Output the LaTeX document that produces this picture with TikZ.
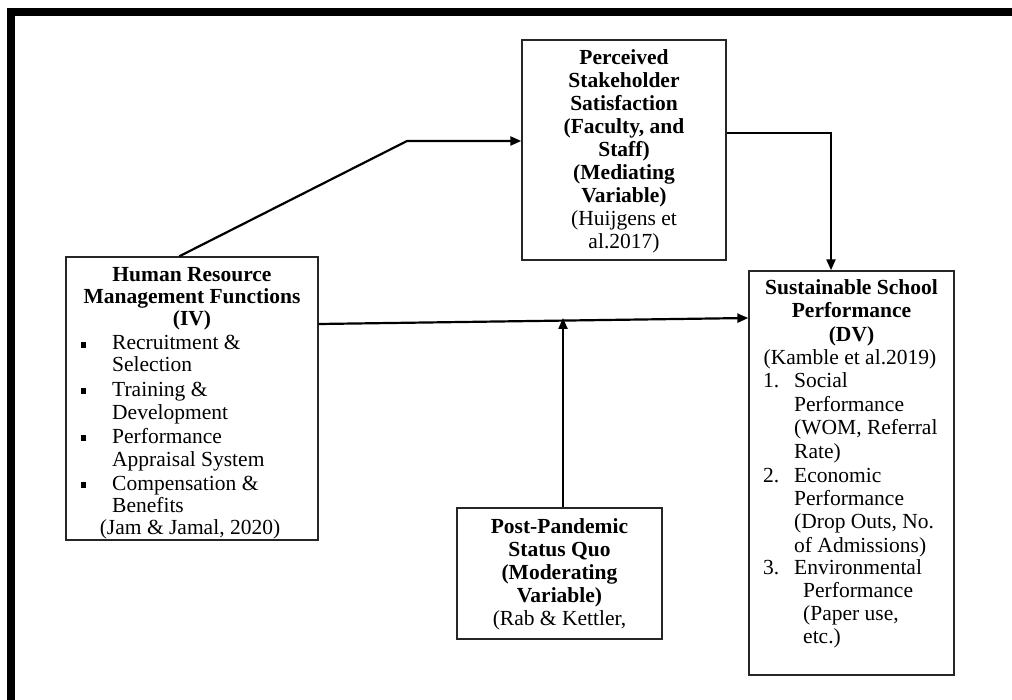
\documentclass[tikz,border=0pt]{standalone}
\usepackage{fontspec}
\setmainfont{Liberation Serif}
\usetikzlibrary{arrows.meta}
\begin{document}
\begin{tikzpicture}[x=1pt,y=-1pt,
  font=\fontsize{21.5}{23}\selectfont,
  box/.style={draw=black!85, line width=1.4pt, inner sep=0pt},
  txt/.style={inner sep=0pt, anchor=base},
  txtl/.style={inner sep=0pt, anchor=base west},
  bt/.style={inner sep=0pt, anchor=base, font=\fontsize{21.5}{23}\selectfont\bfseries},
  sq/.style={fill=black, inner sep=0pt, minimum size=5.5pt},
  conn/.style={line width=2.2pt, line join=miter},
  arr/.style={conn, -{Triangle[length=11pt,width=9pt]}}]
\useasboundingbox (0,0) rectangle (1012,700);
% outer frame
\draw[line width=8pt, line join=miter, line cap=butt] (11,700) -- (11,12) -- (1012,12);

% boxes
\node[box, minimum width=252pt, minimum height=283pt] (hrm) at (192,398.5) {};
\node[box, minimum width=204pt, minimum height=220pt] (med) at (624,150) {};
\node[box, minimum width=205pt, minimum height=404pt] (dv) at (851.5,473) {};
\node[box, minimum width=205pt, minimum height=131pt] (mod) at (559.5,573.5) {};

% HRM text
\node[bt] (h1) at (192,282) {Human Resource};
\node[bt] (h2) at (192,304) {Management Functions};
\node[bt] (h3) at (192,326) {(IV)};
\node[txtl] (h4) at (112,350) {Recruitment \&};
\node[txtl] (h5) at (112,372) {Selection};
\node[txtl] (h6) at (112,396) {Training \&};
\node[txtl] (h7) at (112,419) {Development};
\node[txtl] (h8) at (112,443) {Performance};
\node[txtl] (h9) at (112,466) {Appraisal System};
\node[txtl] (h10) at (112,490) {Compensation \&};
\node[txtl] (h11) at (112,512) {Benefits};
\node[txt] (h12) at (190,534) {(Jam \& Jamal, 2020)};
\node[sq] (b1) at (83.5,345) {};
\node[sq] (b2) at (83.5,391) {};
\node[sq] (b3) at (83.5,438) {};
\node[sq] (b4) at (83.5,485) {};

% Mediating text
\node[bt] (m1) at (624,65) {Perceived};
\node[bt] (m2) at (624,88) {Stakeholder};
\node[bt] (m3) at (624,111) {Satisfaction};
\node[bt] (m4) at (624,134) {(Faculty, and};
\node[bt] (m5) at (624,157) {Staff)};
\node[bt] (m6) at (624,180) {(Mediating};
\node[bt] (m7) at (624,203) {Variable)};
\node[txt] (m8) at (624,226) {(Huijgens et};
\node[txt] (m9) at (624,249) {al.2017)};

% DV text
\node[bt] (d1) at (851.5,295) {Sustainable School};
\node[bt] (d2) at (851.5,318) {Performance};
\node[bt] (d3) at (851.5,342) {(DV)};
\node[txt] (d4) at (850,365) {(Kamble et al.2019)};
\node[txtl] (n1) at (763,388) {1.};
\node[txtl] (d5) at (794,388) {Social};
\node[txtl] (d6) at (794,412) {Performance};
\node[txtl] (d7) at (794,435) {(WOM, Referral};
\node[txtl] (d8) at (794,458) {Rate)};
\node[txtl] (n2) at (763,482) {2.};
\node[txtl] (d9) at (794,482) {Economic};
\node[txtl] (d10) at (794,505) {Performance};
\node[txtl] (d11) at (794,528) {(Drop Outs, No.};
\node[txtl] (d12) at (794,552) {of Admissions)};
\node[txtl] (n3) at (763,574) {3.};
\node[txtl] (d13) at (794,574) {Environmental};
\node[txtl] (d14) at (803,597) {Performance};
\node[txtl] (d15) at (803,620) {(Paper use,};
\node[txtl] (d16) at (803,643) {etc.)};

% Moderator text
\node[bt] (o1) at (559.5,533) {Post-Pandemic};
\node[bt] (o2) at (559.5,556) {Status Quo};
\node[bt] (o3) at (559.5,579) {(Moderating};
\node[bt] (o4) at (559.5,602) {Variable)};
\node[txt] (o5) at (559.5,625) {(Rab \& Kettler,};

% connectors
\coordinate (k1) at (407,141);
\draw[arr] ([xshift=114pt]hrm.north west) -- (k1) -- (k1 -| med.west);
\coordinate (k2) at (831,133);
\draw[arr] (k2 -| med.east) -- (k2) -- (k2 |- dv.north);
\draw[arr] ([yshift=74.5pt]hrm.east) -- ([yshift=155pt]dv.west);
\coordinate (k3) at (563,318);
\draw[arr] ([xshift=3.5pt]mod.north) -- (k3);
\end{tikzpicture}
\end{document}
